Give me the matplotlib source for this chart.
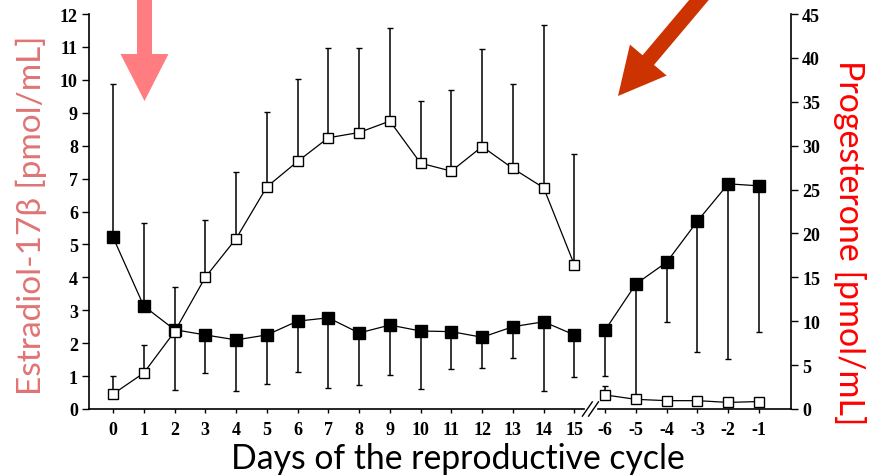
import numpy as np
import matplotlib.pyplot as plt
from matplotlib.patches import Polygon

# ---------------------------------------------------------------------------
# Data
# ---------------------------------------------------------------------------
day_labels = [str(d) for d in range(16)] + ["-6", "-5", "-4", "-3", "-2", "-1"]

# estradiol-17beta, pmol/mL (left axis, filled squares)
e2_cycle = [5.22, 3.13, 2.41, 2.25, 2.10, 2.25, 2.67, 2.77, 2.31, 2.55,
            2.37, 2.35, 2.18, 2.50, 2.65, 2.25]
e2_cycle_lo = [0, 0, 1.82, 1.16, 1.55, 1.48, 1.54, 2.14, 1.57, 1.52,
               1.76, 1.13, 0.93, 0.95, 2.10, 1.28]
e2_cycle_hi = [4.66, 2.52, 0, 0, 0, 0, 0, 0, 0, 0, 0, 0, 0, 0, 0, 0]
e2_pre = [2.40, 3.80, 4.46, 5.71, 6.84, 6.78]
e2_pre_lo = [1.40, 3.60, 1.82, 3.98, 5.32, 4.44]

# progesterone, pmol/mL (right axis, open squares)
p4_cycle = [1.7, 4.1, 8.8, 15.0, 19.4, 25.3, 28.2, 30.9, 31.5, 32.8,
            28.0, 27.1, 29.9, 27.4, 25.2, 16.4]
p4_cycle_hi = [2.05, 3.2, 5.1, 6.5, 7.6, 8.5, 9.4, 10.2, 9.6, 10.6,
               7.1, 9.2, 11.1, 9.6, 18.6, 12.6]
p4_pre = [1.6, 1.1, 0.95, 0.95, 0.75, 0.85]
p4_pre_hi = [1.0, 0, 0, 0, 0, 0]

W, H = 870, 477
fig = plt.figure(figsize=(W / 100, H / 100), dpi=100)
ax = fig.add_axes([89 / W, 1 - 410 / H, (791 - 89) / W, (410 - 15) / H])
ax2 = ax.twinx()

x = np.arange(len(day_labels))
n1 = len(e2_cycle)
x1, x2 = x[:n1], x[n1:]

err_kw = dict(fmt="none", ecolor="black", elinewidth=1.1, capsize=2.5,
              capthick=1.0)
ax.errorbar(x1, e2_cycle, yerr=[e2_cycle_lo, e2_cycle_hi], **err_kw)
ax.errorbar(x2, e2_pre, yerr=[e2_pre_lo, np.zeros(len(e2_pre))], **err_kw)
sq = dict(color="black", lw=0.9, marker="s", markersize=8,
          markerfacecolor="black", markeredgecolor="black")
ax.plot(x1, e2_cycle, **sq)
ax.plot(x2, e2_pre, **sq)

ax2.errorbar(x1, p4_cycle, yerr=[np.zeros(n1), p4_cycle_hi], **err_kw)
ax2.errorbar(x2, p4_pre, yerr=[np.zeros(len(p4_pre)), p4_pre_hi], **err_kw)
osq = dict(color="black", lw=0.9, marker="s", markersize=7,
           markerfacecolor="white", markeredgecolor="black", markeredgewidth=1.0)
ax2.plot(x1, p4_cycle, **osq)
ax2.plot(x2, p4_pre, **osq)

ax.set_xlim(-0.78, 22.04)
ax.set_ylim(0, 12)
ax2.set_ylim(0, 45)
ax.set_yticks(range(0, 13))
ax2.set_yticks(range(0, 46, 5))
ax.set_xticks(x)
ax.set_xticklabels(day_labels)

tick_font = dict(family="Liberation Serif", weight="bold", size=13)
for a in (ax, ax2):
    for lab in a.get_xticklabels() + a.get_yticklabels():
        lab.set_fontfamily(tick_font["family"])
        lab.set_fontweight(tick_font["weight"])
        lab.set_fontsize(tick_font["size"])
    a.spines["top"].set_visible(False)
    a.spines["bottom"].set_visible(False)
ax.spines["right"].set_visible(False)
ax.spines["left"].set_linewidth(1.2)
ax2.spines["right"].set_linewidth(1.2)
ax2.spines["left"].set_visible(False)
ax.tick_params(axis="y", length=5, width=1.0, pad=3)
ax2.tick_params(axis="y", length=5, width=1.0, pad=3)
ax.tick_params(axis="x", length=3, width=1.0, pad=6)

# bottom axis line with a break between day 15 and day -6
xt = ax.get_xaxis_transform()
ax.plot([-0.78, 15.3], [0, 0], color="black", lw=1.2, transform=xt, clip_on=False)
ax.plot([15.75, 22.04], [0, 0], color="black", lw=1.2, transform=xt, clip_on=False)
dx, dy = 0.16, 0.018
for xb in (15.42, 15.62):
    ax.plot([xb - dx, xb + dx], [-dy, dy], color="black", lw=1.0,
            transform=xt, clip_on=False)

# axis labels
lab_font = ["Lato", "DejaVu Sans"]
fig.text(31 / W, 1 - 215 / H, "Estradiol-17β [pmol/mL]", rotation=90,
         ha="center", va="center", fontsize=24, color="#E07474", family=lab_font)
fig.text(850 / W, 1 - 243 / H, "Progesterone [pmol/mL]", rotation=-90,
         ha="center", va="center", fontsize=24.5, color="#FF0000", family=lab_font)
fig.text(458 / W, 1 - 459 / H, "Days of the reproductive cycle",
         ha="center", va="center", fontsize=24.3, color="black", family=lab_font)


# arrows (pixel coordinates, y from top)
def arrow(tail, tip, shaft_w, head_w, head_len, color):
    tail, tip = np.array(tail, float), np.array(tip, float)
    d = tip - tail
    d /= np.hypot(*d)
    n = np.array([-d[1], d[0]])
    base = tip - d * head_len
    pts = [tail + n * shaft_w / 2, base + n * shaft_w / 2, base + n * head_w / 2,
           tip, base - n * head_w / 2, base - n * shaft_w / 2, tail - n * shaft_w / 2]
    pts = [(p[0] / W, 1 - p[1] / H) for p in pts]
    fig.patches.append(Polygon(pts, closed=True, color=color, lw=0,
                               transform=fig.transFigure, figure=fig))


arrow((144.5, -5), (144.5, 102), 15, 48, 47, "#FF7C80")
arrow((704, -5), (618, 97), 15, 48, 47, "#CC3300")

fig.savefig("out.png", dpi=100)
